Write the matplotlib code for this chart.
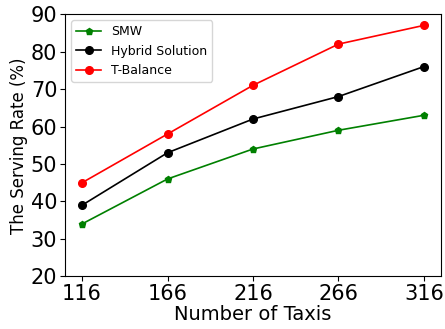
import matplotlib
matplotlib.use('Agg')
import matplotlib.pyplot as plt

taxis = [116, 166, 216, 266, 316]
smw = [34, 46, 54, 59, 63]
hybrid = [39, 53, 62, 68, 76]
t_balance = [45, 58, 71, 82, 87]


def main():
    fig, ax = plt.subplots(figsize=(4.45, 3.29), dpi=100)
    ax.plot(taxis, smw, 'g-p', markersize=5, linewidth=1.2, label='SMW')
    ax.plot(taxis, hybrid, 'k-o', markersize=5.5, linewidth=1.2, label='Hybrid Solution')
    ax.plot(taxis, t_balance, 'r-o', markersize=5.5, linewidth=1.2, label='T-Balance')

    ax.set_xticks(taxis)
    ax.set_ylim(20, 90)
    ax.set_yticks(range(20, 91, 10))
    ax.tick_params(labelsize=15, pad=2)
    ax.set_xlabel('Number of Taxis', fontsize=14, labelpad=1)
    ax.set_ylabel('The Serving Rate (%)', fontsize=12, labelpad=2)
    ax.legend(loc='upper left', fontsize=9)

    fig.subplots_adjust(left=0.146, right=0.991, top=0.957, bottom=0.16)
    fig.savefig('out.png')


if __name__ == '__main__':
    main()
